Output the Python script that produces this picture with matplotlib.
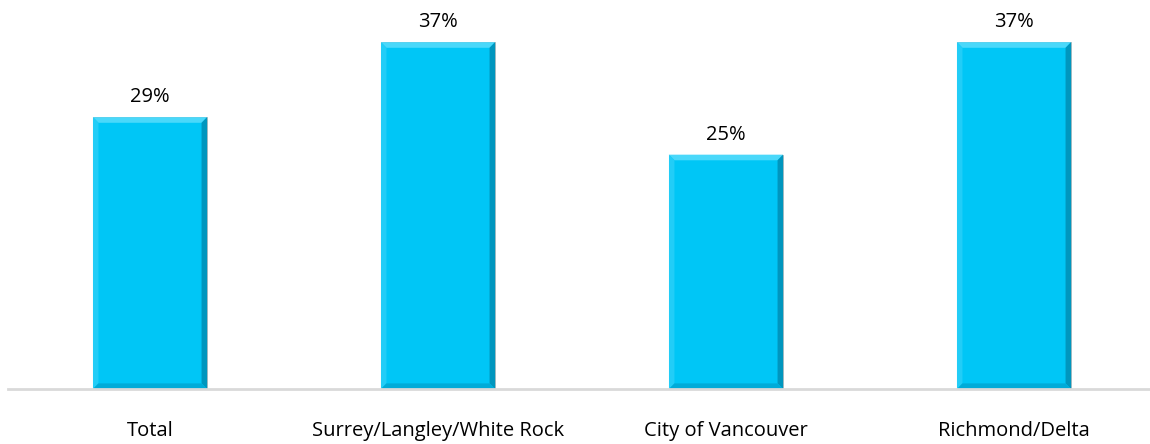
import matplotlib
matplotlib.use("Agg")
import matplotlib.pyplot as plt
from matplotlib.patches import Polygon

categories = ["Total", "Surrey/Langley/White Rock", "City of Vancouver", "Richmond/Delta"]
values = [29, 37, 25, 37]
labels = ["29%", "37%", "25%", "37%"]

plt.rcParams["font.family"] = ["Open Sans", "DejaVu Sans"]

fig = plt.figure(figsize=(11.5, 4.44), dpi=100)
ax = fig.add_axes([8 / 1150, 55 / 444, 1142 / 1150, 389 / 444])

width = 0.396
bx = 0.019   # bevel width in x (data units)
by = 0.6     # bevel width in y

main = "#00C6F6"
for i, v in enumerate(values):
    x0, x1 = i - width / 2, i + width / 2
    ax.add_patch(Polygon([(x0, 0), (x1, 0), (x1, v), (x0, v)], closed=True,
                         facecolor=main, edgecolor="#A8B4B8", lw=0.6))
    # top bevel (light)
    ax.add_patch(Polygon([(x0, v), (x1, v), (x1 - bx, v - by), (x0 + bx, v - by)],
                         closed=True, facecolor="#4AD8FA", edgecolor="none"))
    # left bevel
    ax.add_patch(Polygon([(x0, 0), (x0, v), (x0 + bx, v - by), (x0 + bx, by)],
                         closed=True, facecolor="#22CDF7", edgecolor="none"))
    # right bevel (dark)
    ax.add_patch(Polygon([(x1, 0), (x1, v), (x1 - bx, v - by), (x1 - bx, by)],
                         closed=True, facecolor="#0096BE", edgecolor="none"))
    # bottom bevel
    ax.add_patch(Polygon([(x0, 0), (x1, 0), (x1 - bx, by), (x0 + bx, by)],
                         closed=True, facecolor="#00ABD8", edgecolor="none"))
    ax.text(i, v + 1.6, labels[i], ha="center", va="baseline", fontsize=14.5, color="#000000")

ax.set_xlim(-142 / 288, 1000 / 288)
ax.set_ylim(0, 41.5)
ax.set_xticks(range(len(categories)))
ax.set_xticklabels(categories, fontsize=14.5)
ax.tick_params(axis="x", length=0, pad=23)
ax.set_yticks([])
for s in ["top", "right", "left"]:
    ax.spines[s].set_visible(False)
ax.spines["bottom"].set_color("#D9D9D9")
ax.spines["bottom"].set_linewidth(2)

fig.savefig("out.png", dpi=100)
